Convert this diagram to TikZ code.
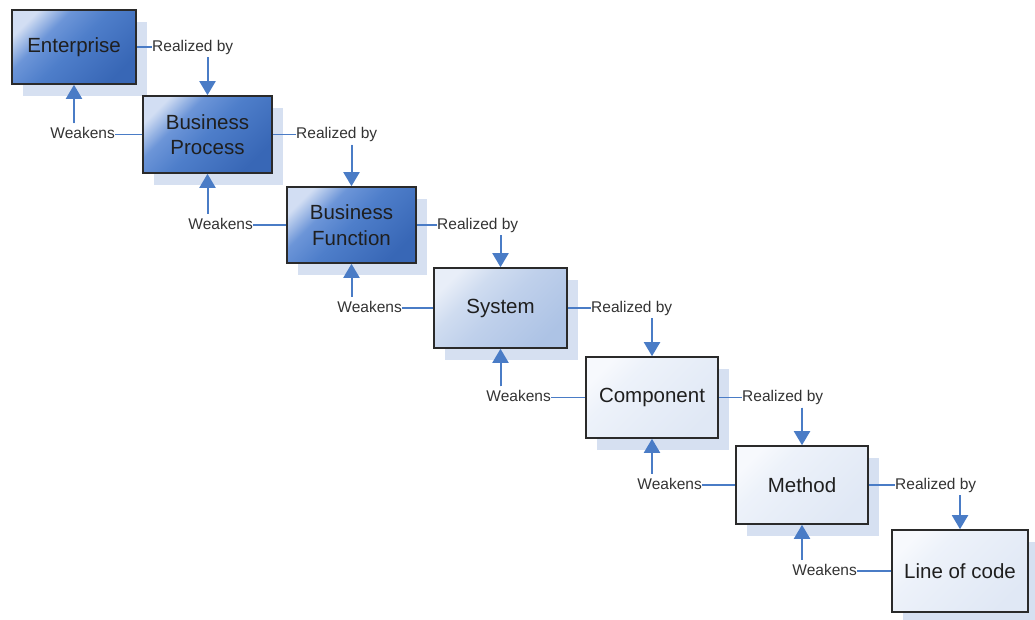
\documentclass[tikz,border=0pt]{standalone}
\usepackage{fontspec}
\setmainfont{Liberation Sans}
\usetikzlibrary{arrows.meta,shadows}

\definecolor{linkblue}{HTML}{4A7CC6}
\definecolor{shadowblue}{HTML}{D6E0F1}
\definecolor{boxedge}{HTML}{2A2A2A}
\definecolor{labelgray}{HTML}{333333}
% dark blue fill
\definecolor{dkL}{HTML}{D2DEF3}
\definecolor{dkA}{HTML}{6C95D8}
\definecolor{dkB}{HTML}{4E7ECA}
\definecolor{dkC}{HTML}{3867B6}
% medium fill
\definecolor{mdL}{HTML}{E8EEF8}
\definecolor{mdA}{HTML}{CFDCF0}
\definecolor{mdB}{HTML}{BFD0EB}
\definecolor{mdC}{HTML}{ADC3E5}
% pale fill
\definecolor{ltL}{HTML}{F7F9FD}
\definecolor{ltA}{HTML}{EDF2FA}
\definecolor{ltB}{HTML}{E8EEF8}
\definecolor{ltC}{HTML}{E0E8F5}

\pgfdeclareverticalshading{darkfill}{100bp}{color(0bp)=(dkC); color(25bp)=(dkC); color(50bp)=(dkB); color(64bp)=(dkA); color(76bp)=(dkL); color(100bp)=(dkL)}
\pgfdeclareverticalshading{midfill}{100bp}{color(0bp)=(mdC); color(25bp)=(mdC); color(50bp)=(mdB); color(64bp)=(mdA); color(76bp)=(mdL); color(100bp)=(mdL)}
\pgfdeclareverticalshading{lightfill}{100bp}{color(0bp)=(ltC); color(25bp)=(ltC); color(50bp)=(ltB); color(64bp)=(ltA); color(76bp)=(ltL); color(100bp)=(ltL)}

\tikzset{
  box/.style={draw=boxedge, line width=1.6pt, inner sep=2pt, align=center,
    text=black!88, font=\fontsize{20.5}{25.5}\selectfont,
    drop shadow={shadow xshift=11pt, shadow yshift=-12pt, fill=shadowblue, opacity=1}},
  darkbox/.style={box, shade, shading=darkfill, shading angle=45},
  midbox/.style={box, shade, shading=midfill, shading angle=45},
  lightbox/.style={box, shade, shading=lightfill, shading angle=45},
  tag/.style={inner sep=0pt, text=labelgray, font=\fontsize{15.5}{18}\selectfont,
    text height=11pt, text depth=3pt},
  link/.style={draw=linkblue, line width=1.5pt},
  arrowlink/.style={draw=linkblue, line width=2pt,
    -{Triangle[width=16pt,length=14pt]}, fill=linkblue}
}

\begin{document}
\begin{tikzpicture}[x=1pt,y=-1pt]
\useasboundingbox (0,0) rectangle (1035,619);

% levels of the hierarchy
\node[darkbox, minimum width=124pt, minimum height=74pt] (ent) at (74,47) {Enterprise};
\node[darkbox, minimum width=129pt, minimum height=77pt] (bp) at (207.5,134.5) {Business\\Process};
\node[darkbox, minimum width=129pt, minimum height=76pt] (bf) at (351.5,225) {Business\\Function};
\node[midbox, minimum width=133pt, minimum height=80pt] (sys) at (500.5,308) {System};
\node[lightbox, minimum width=132pt, minimum height=81pt] (comp) at (652,397.5) {Component};
\node[lightbox, minimum width=132pt, minimum height=78pt] (meth) at (802,485) {Method};
\node[lightbox, minimum width=136pt, minimum height=82pt] (loc) at (960,571) {Line of code};

% "Realized by" labels, right of each level
\node[tag, anchor=west] (r1) at (152,47) {Realized by};
\node[tag, anchor=west] (r2) at (296,134.5) {Realized by};
\node[tag, anchor=west] (r3) at (437,225) {Realized by};
\node[tag, anchor=west] (r4) at (591,308) {Realized by};
\node[tag, anchor=west] (r5) at (742,397.5) {Realized by};
\node[tag, anchor=west] (r6) at (895,485) {Realized by};

% "Weakens" labels, left of each lower level
\node[tag, anchor=east] (w1) at (115,134.5) {Weakens};
\node[tag, anchor=east] (w2) at (253,225) {Weakens};
\node[tag, anchor=east] (w3) at (402,308) {Weakens};
\node[tag, anchor=east] (w4) at (551,397.5) {Weakens};
\node[tag, anchor=east] (w5) at (702,485) {Weakens};
\node[tag, anchor=east] (w6) at (857,571) {Weakens};

% realized-by connectors
\foreach \up/\lab/\down in {ent/r1/bp, bp/r2/bf, bf/r3/sys, sys/r4/comp, comp/r5/meth, meth/r6/loc}{
  \draw[link] (\up.east) -- (\lab.west);
  \draw[arrowlink] ([yshift=-3pt]\lab.south -| \down.north) -- (\down.north);
}

% weakens connectors
\foreach \up/\lab/\down in {ent/w1/bp, bp/w2/bf, bf/w3/sys, sys/w4/comp, comp/w5/meth, meth/w6/loc}{
  \draw[link] (\down.west) -- (\lab.east);
  \draw[arrowlink] ([yshift=4pt]\lab.north -| \up.south) -- (\up.south);
}
\end{tikzpicture}
\end{document}
